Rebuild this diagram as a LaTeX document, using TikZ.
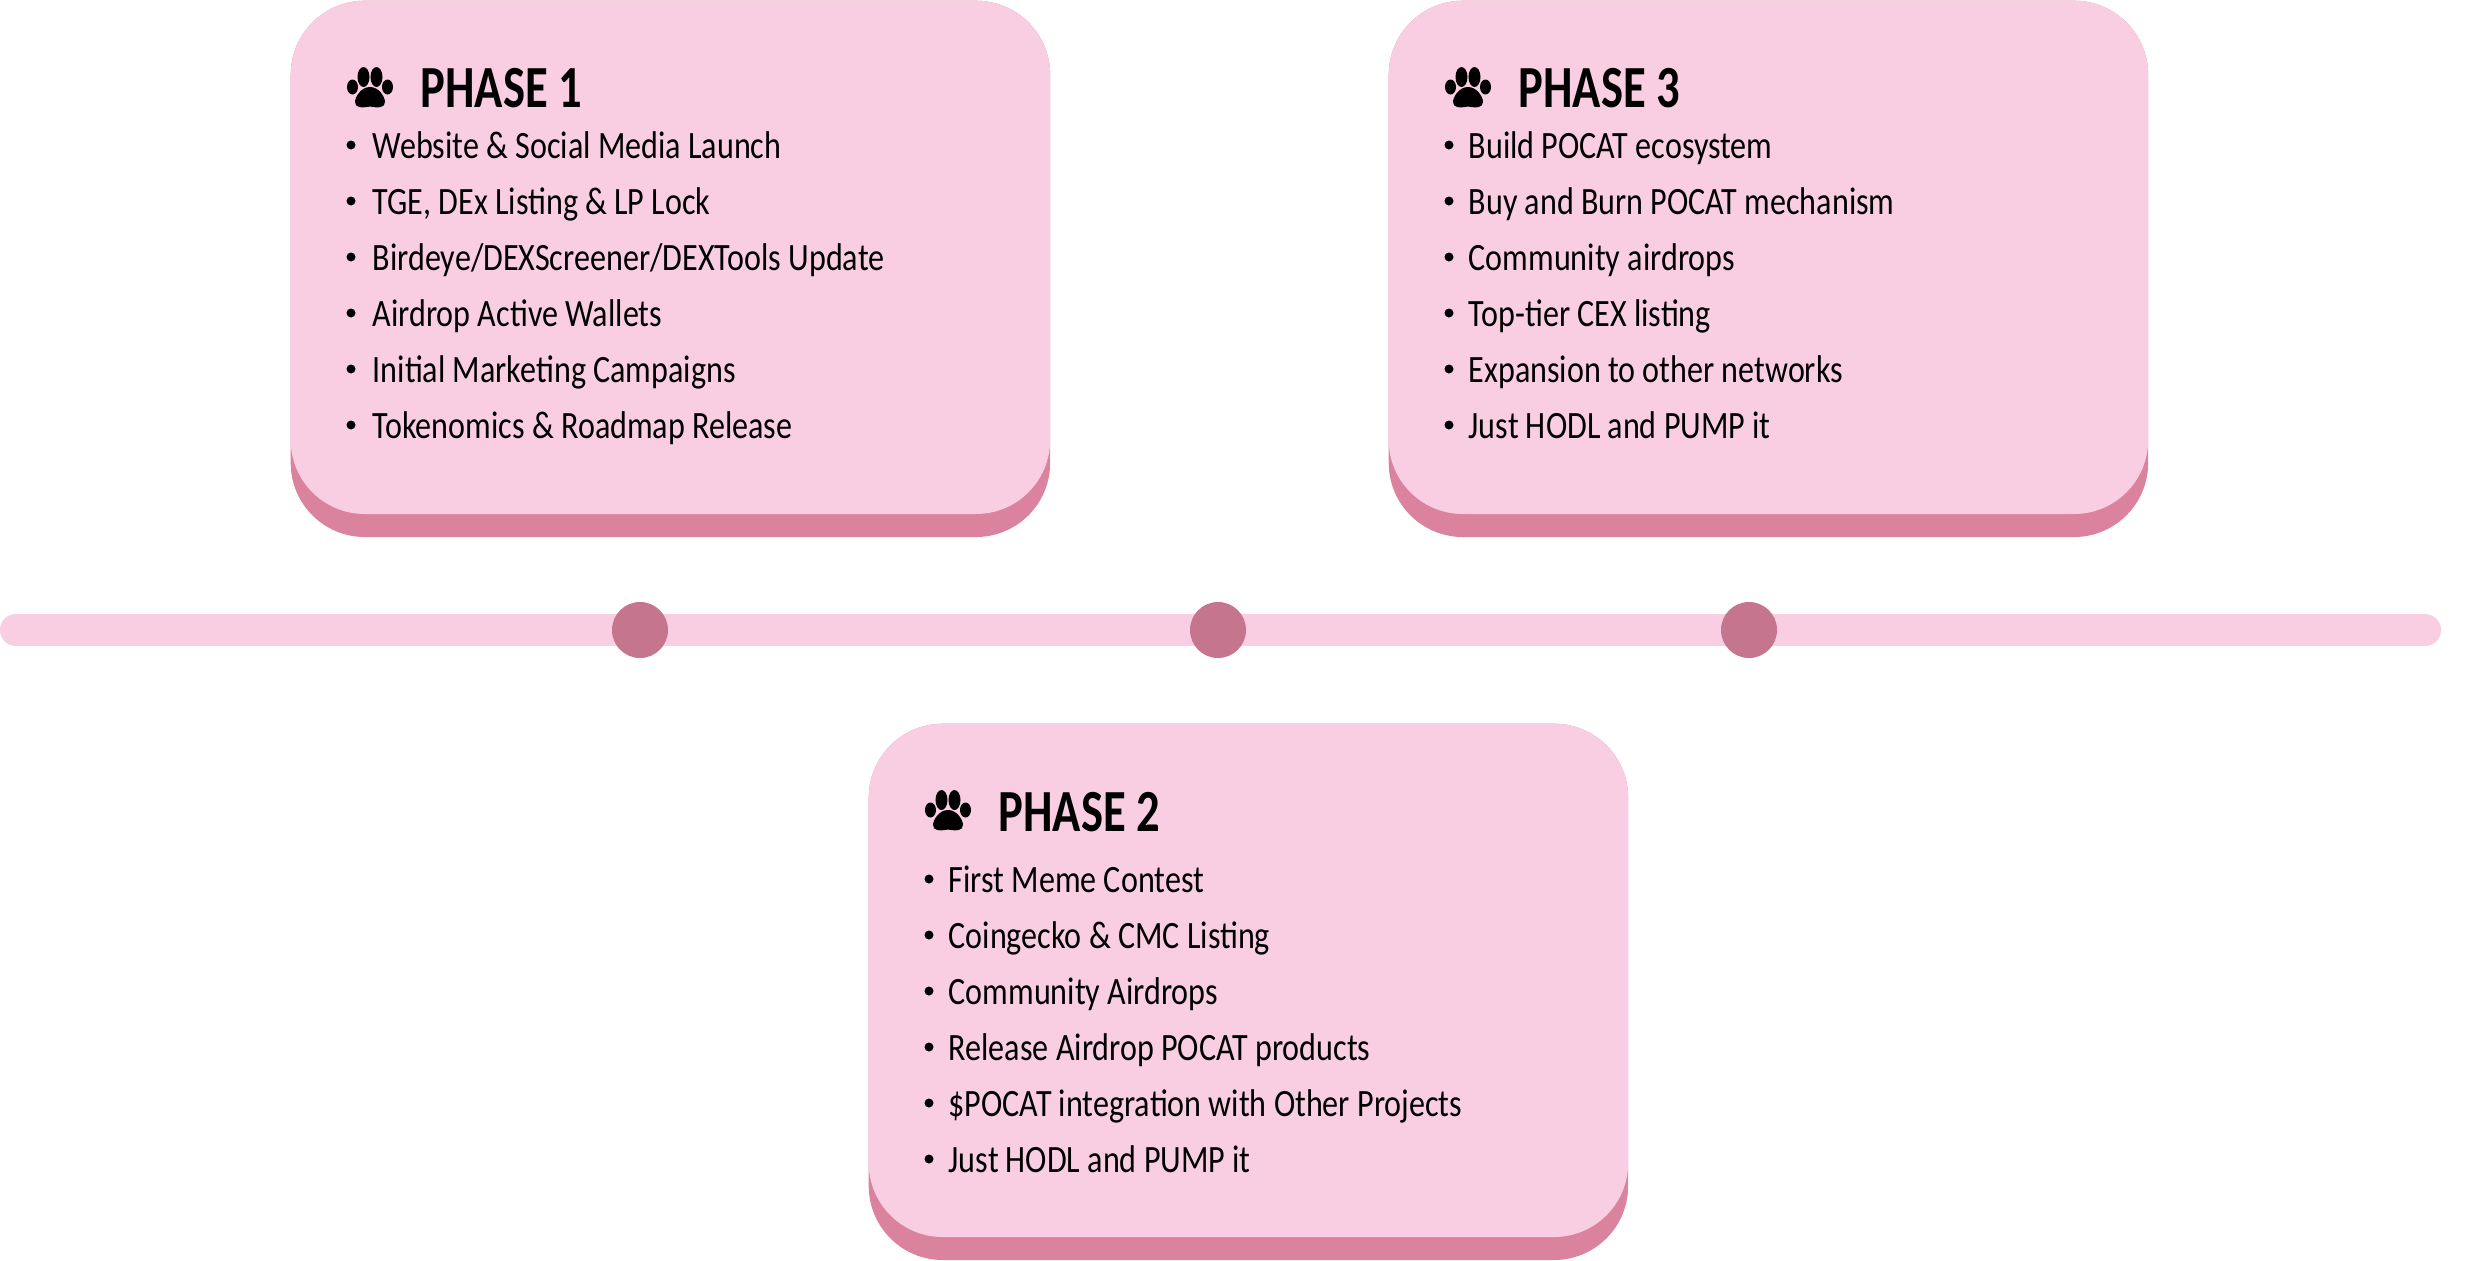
\documentclass[tikz,border=0pt]{standalone}
\usepackage{fontspec}
\setmainfont[FakeStretch=0.83]{Carlito}
\newfontfamily\headfont[FakeStretch=0.78]{Carlito}
\usepackage{xcolor}
\usepackage{tikz}
\definecolor{cardpink}{HTML}{F9CEE3}
\definecolor{cardedge}{HTML}{DB829E}
\definecolor{dotrose}{HTML}{C5758D}
\tikzset{
  cardface/.style={fill=cardpink, rounded corners=0.74cm, minimum width=7.59cm, minimum height=5.13cm, anchor=north west, inner sep=0pt},
  cardback/.style={fill=cardedge, rounded corners=0.74cm, minimum width=7.59cm, minimum height=5.36cm, anchor=north west, inner sep=0pt},
  headtext/.style={anchor=base west, inner sep=0pt, font=\headfont\bfseries\fontsize{17}{17}\selectfont},
  itemtext/.style={anchor=base west, inner sep=0pt, font=\fontsize{11}{11}\selectfont},
  itemdot/.style={circle, fill=black, minimum size=0.09cm, inner sep=0pt},
  stopdot/.style={circle, fill=dotrose, minimum size=0.56cm, inner sep=0pt},
  paw/.pic={
    \fill (-6.5,-11) ellipse (6 and 10);
    \fill (6.5,-11) ellipse (6 and 10);
    \fill (-17.5,-1) ellipse (5.5 and 7.5);
    \fill (17.5,-1) ellipse (5.5 and 7.5);
    \fill (0,-1) .. controls (9,-1) and (15,9) .. (15,14) .. controls (15,20) and (8,20) .. (0,18.5) .. controls (-8,20) and (-15,20) .. (-15,14) .. controls (-15,9) and (-9,-1) .. (0,-1) -- cycle;
  }
}
\begin{document}
\begin{tikzpicture}[x=0.01cm, y=-0.01cm]
  \useasboundingbox (0,0) rectangle (2466,1260);
  % timeline
  \coordinate (barL) at (16,630);
  \coordinate (barR) at (2425,630);
  \draw[cardpink, line width=0.32cm, line cap=round] (barL) -- (barR);
  \node[stopdot] (stop1) at (640,630) {};
  \node[stopdot] (stop2) at (1218,630) {};
  \node[stopdot] (stop3) at (1749,630) {};
  % phase 1
  \begin{scope}[shift={(290,0)}]
    \node[cardback] (back1) at (0,0) {};
    \node[cardface] (card1) at (0,0) {};
    \pic at (80,88) {paw};
    \node[headtext] (head1) at (130,107) {PHASE 1};
    \foreach \txt [count=\i] in {Website \& Social Media Launch, {TGE, DEx Listing \& LP Lock}, Birdeye/DEXScreener/DEXTools Update, Airdrop Active Wallets, Initial Marketing Campaigns, Tokenomics \& Roadmap Release} {
      \node[itemdot] (dot1\i) at (61,{145+56*(\i-1)}) {};
      \node[itemtext] (item1\i) at (82,{158.5+56*(\i-1)}) {\txt};
    }
  \end{scope}
  % phase 3
  \begin{scope}[shift={(1388,0)}]
    \node[cardback] (back3) at (0,0) {};
    \node[cardface] (card3) at (0,0) {};
    \pic at (80,88) {paw};
    \node[headtext] (head3) at (130,107) {PHASE 3};
    \foreach \txt [count=\i] in {Build POCAT ecosystem, Buy and Burn POCAT mechanism, Community airdrops, Top-tier CEX listing, Expansion to other networks, Just HODL and PUMP it} {
      \node[itemdot] (dot3\i) at (61,{145+56*(\i-1)}) {};
      \node[itemtext] (item3\i) at (80,{158.5+56*(\i-1)}) {\txt};
    }
  \end{scope}
  % phase 2
  \begin{scope}[shift={(868,723)}]
    \node[cardback] (back2) at (0,0) {};
    \node[cardface] (card2) at (0,0) {};
    \pic at (80,88) {paw};
    \node[headtext] (head2) at (130,108) {PHASE 2};
    \foreach \txt [count=\i] in {First Meme Contest, Coingecko \& CMC Listing, Community Airdrops, Release Airdrop POCAT products, \$POCAT integration with Other Projects, Just HODL and PUMP it} {
      \node[itemdot] (dot2\i) at (61,{156+56*(\i-1)}) {};
      \node[itemtext] (item2\i) at (80,{169.5+56*(\i-1)}) {\txt};
    }
  \end{scope}
\end{tikzpicture}
\end{document}
